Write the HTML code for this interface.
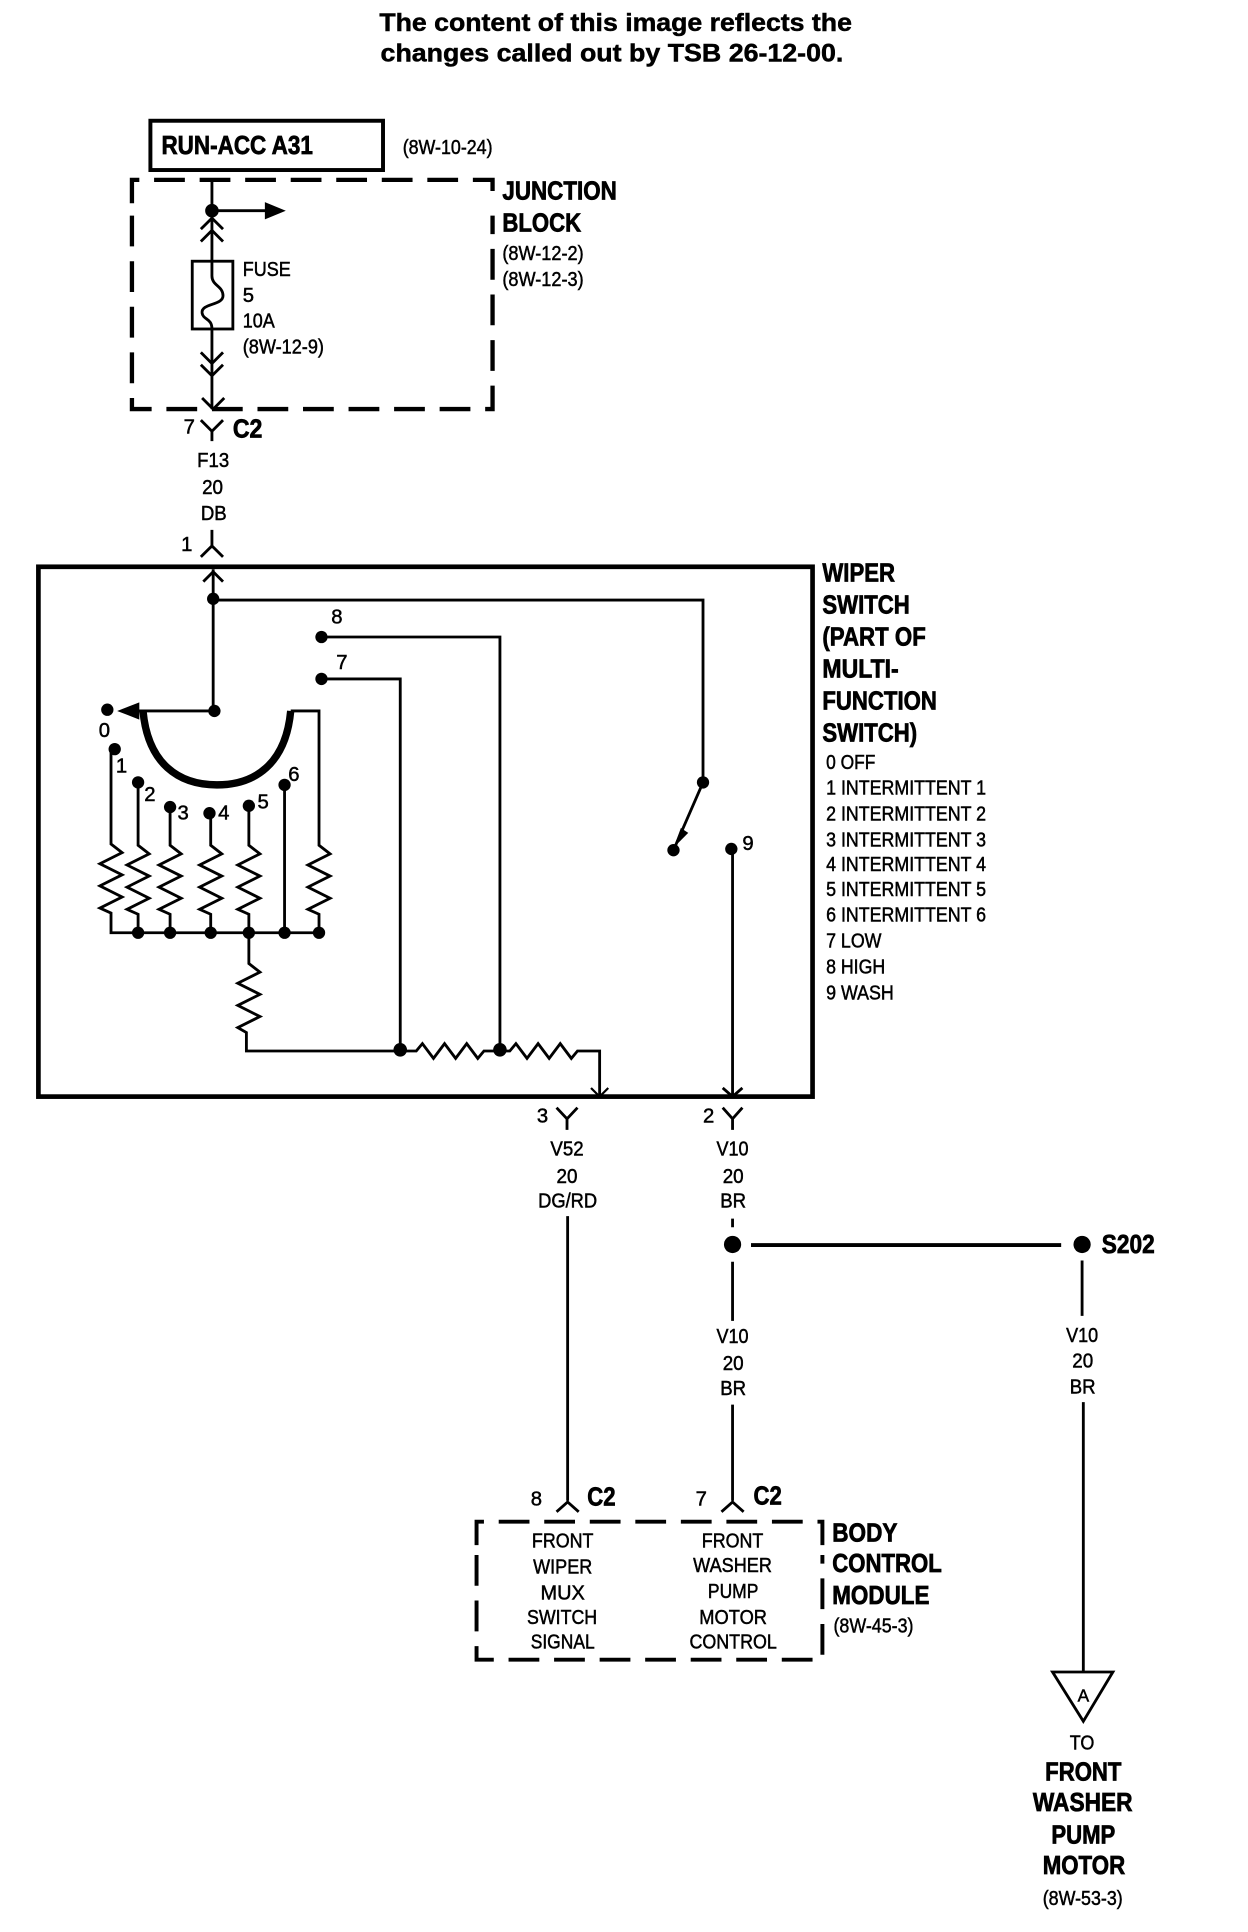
<!DOCTYPE html>
<html><head><meta charset="utf-8"><title>Wiper switch schematic</title>
<style>
html,body{margin:0;padding:0;background:#fff}
svg{display:block}
text{font-family:"Liberation Sans",sans-serif;fill:#000;stroke:#000;stroke-width:.4}
.b{font-weight:bold;font-size:21px;stroke-width:.6}
.r{font-size:16.5px}
.t{font-weight:bold;font-size:20.5px;stroke-width:.4}
.c{text-anchor:middle}
</style></head><body>
<svg width="1248" height="1932" viewBox="-0.2 0 1014 1568" preserveAspectRatio="none" xmlns="http://www.w3.org/2000/svg">
<rect x="-1" width="1016" height="1568" fill="#fff"/>
<text class="t" x="308" y="25" textLength="384" lengthAdjust="spacingAndGlyphs">The content of this image reflects the</text>
<text class="t" x="309" y="50" textLength="376" lengthAdjust="spacingAndGlyphs">changes called out by TSB 26-12-00.</text>

<g fill="none" stroke="#000" stroke-width="2.300">
<rect x="122" y="98" width="189" height="40" stroke-width="3.200"/>
<path stroke-width="3.500" stroke-dasharray="25 12" d="M107 165V146H400V165"/>
<path stroke-width="3.500" stroke-dasharray="25 12" d="M107 175V332H400V175"/>
<path d="M172 146V212M172 267V332"/>
<path d="M172 171H216"/>
<path d="M163 186l9-9 9 9M163 196l9-9 9 9"/>
<rect x="156" y="212" width="33" height="55"/>
<path d="M172 212V224C172 232 181 232 181 240C181 248 163 246 164 254C165 260 172 258 172 267"/>
<path d="M163 286l9 9 9-9M163 296l9 9 9-9M164 323l9 9 9-9"/>
<path d="M163 341l9 9 9-9M172 350V358"/>
<path d="M172 430V445M163 452l9-9 9 9"/>
<rect x="31" y="460" width="629" height="430" stroke-width="3.800"/>
<path d="M165 472l8-8 8 8"/>
<path d="M173 462V577H110"/>
<path d="M173 487H571V635L547 690"/>
<path d="M261 517H406V852M261 551H325V852"/>
<path stroke-width="6" d="M116 577C120 620 145 637 176 637C207 637 232 620 236 577"/>
<path d="M236 577H259V686l9 7-18 9 18 9-18 9 18 9-18 9 9 4V757"/>
<path d="M90 608V685l9 7-18 9 18 9-18 9 18 9-18 9 9 4V757H259"/>
<path d="M112 635V686l9 7-18 9 18 9-18 9 18 9-18 9 9 4V757"/>
<path d="M138 655V686l9 7-18 9 18 9-18 9 18 9-18 9 9 4V757"/>
<path d="M171 660V686l9 7-18 9 18 9-18 9 18 9-18 9 9 4V757"/>
<path d="M202 654V686l9 7-18 9 18 9-18 9 18 9-18 9 9 4V757"/>
<path d="M231 637V757"/>
<path d="M202 757V782l9 7-18 9 18 9-18 9 18 9-18 9 7 4V853H325H338l5-6 9 12 9-12 9 12 9-12 9 12 5-6H406H414l5-6 9 12 9-12 9 12 9-12 9 12 5-6H487V890"/>
<path stroke-width="1.800" d="M480 883l7 7 7-7"/>
<path d="M595 689V890M587 883l8 7 8-7"/>
<path d="M452 899l8.500 9 8.500-9M460.500 908V917"/>
<path d="M587 899l8 9 8-9M595 908V917"/>
<path d="M461 987V1218M452 1227l9-8 9 8"/>
<path d="M595 989V996M595 1024V1072M595 1140V1218M586 1227l9-8 9 8"/>
<path stroke-width="3.200" d="M610 1010.500H862"/>
<path d="M879 1023V1068M880 1138V1357"/>
<path stroke-width="3.200" stroke-dasharray="25 12" d="M387 1254V1235H668V1254"/>
<path stroke-width="3.200" stroke-dasharray="25 12" d="M387 1262V1347H668V1262"/>
<path d="M855 1357H904L880 1397Z"/>
</g>

<g fill="#000" stroke="none">
<path d="M215 164L232 171L215 178Z"/>
<path d="M95 577L113 570V584Z"/>
<path d="M547 688L553 672L559 676Z"/>
<circle cx="172" cy="171" r="5.500"/><circle cx="173" cy="486" r="5"/>
<circle cx="261" cy="517" r="5"/><circle cx="261" cy="551" r="5"/>
<circle cx="174" cy="577" r="5"/><circle cx="87" cy="576" r="5"/>
<circle cx="93" cy="608" r="5"/><circle cx="112" cy="635" r="5"/>
<circle cx="138" cy="655" r="5"/><circle cx="170" cy="660" r="5"/>
<circle cx="202" cy="654" r="5"/><circle cx="231" cy="637" r="5"/>
<circle cx="112" cy="757" r="5"/><circle cx="138" cy="757" r="5"/>
<circle cx="171" cy="757" r="5"/><circle cx="202" cy="757" r="5"/>
<circle cx="231" cy="757" r="5"/><circle cx="259" cy="757" r="5"/>
<circle cx="325" cy="852" r="5.500"/><circle cx="406" cy="852" r="5.500"/>
<circle cx="571" cy="635" r="5"/><circle cx="547" cy="690" r="5"/><circle cx="594" cy="689" r="5"/>
<circle cx="595" cy="1010" r="7"/><circle cx="879" cy="1010" r="7"/>
</g>

<text class="b" x="131" y="125" textLength="123" lengthAdjust="spacingAndGlyphs">RUN-ACC A31</text>
<text class="r" x="327" y="125" textLength="73" lengthAdjust="spacingAndGlyphs">(8W-10-24)</text>
<text class="b" x="408" y="162" textLength="93" lengthAdjust="spacingAndGlyphs">JUNCTION</text>
<text class="b" x="408" y="188" textLength="64" lengthAdjust="spacingAndGlyphs">BLOCK</text>
<text class="r" x="408" y="211" textLength="66" lengthAdjust="spacingAndGlyphs">(8W-12-2)</text>
<text class="r" x="408" y="232" textLength="66" lengthAdjust="spacingAndGlyphs">(8W-12-3)</text>
<text class="r" x="197" y="224" textLength="39" lengthAdjust="spacingAndGlyphs">FUSE</text>
<text class="r" x="197" y="245">5</text>
<text class="r" x="197" y="266" textLength="26" lengthAdjust="spacingAndGlyphs">10A</text>
<text class="r" x="197" y="287" textLength="66" lengthAdjust="spacingAndGlyphs">(8W-12-9)</text>
<text class="r" x="149" y="352">7</text>
<text class="b" x="189" y="355" textLength="24" lengthAdjust="spacingAndGlyphs">C2</text>
<text class="r" x="160" y="379" textLength="26" lengthAdjust="spacingAndGlyphs">F13</text>
<text class="r" x="164" y="401" textLength="17" lengthAdjust="spacingAndGlyphs">20</text>
<text class="r" x="163" y="422" textLength="21" lengthAdjust="spacingAndGlyphs">DB</text>
<text class="r" x="147" y="447">1</text>

<text class="r" x="80" y="598">0</text>
<text class="r" x="94" y="627">1</text>
<text class="r" x="117" y="650">2</text>
<text class="r" x="144" y="665">3</text>
<text class="r" x="177" y="665">4</text>
<text class="r" x="209" y="656">5</text>
<text class="r" x="234" y="634">6</text>
<text class="r" x="269" y="506">8</text>
<text class="r" x="273" y="543">7</text>
<text class="r" x="603" y="690">9</text>

<text class="b" x="668" y="472" textLength="59" lengthAdjust="spacingAndGlyphs">WIPER</text>
<text class="b" x="668" y="498" textLength="71" lengthAdjust="spacingAndGlyphs">SWITCH</text>
<text class="b" x="668" y="524" textLength="84" lengthAdjust="spacingAndGlyphs">(PART OF</text>
<text class="b" x="668" y="550" textLength="62" lengthAdjust="spacingAndGlyphs">MULTI-</text>
<text class="b" x="668" y="576" textLength="93" lengthAdjust="spacingAndGlyphs">FUNCTION</text>
<text class="b" x="668" y="602" textLength="77" lengthAdjust="spacingAndGlyphs">SWITCH)</text>
<text class="r" x="671" y="624" textLength="40" lengthAdjust="spacingAndGlyphs">0 OFF</text>
<text class="r" x="671" y="645" textLength="130" lengthAdjust="spacingAndGlyphs">1 INTERMITTENT 1</text>
<text class="r" x="671" y="666" textLength="130" lengthAdjust="spacingAndGlyphs">2 INTERMITTENT 2</text>
<text class="r" x="671" y="687" textLength="130" lengthAdjust="spacingAndGlyphs">3 INTERMITTENT 3</text>
<text class="r" x="671" y="707" textLength="130" lengthAdjust="spacingAndGlyphs">4 INTERMITTENT 4</text>
<text class="r" x="671" y="727" textLength="130" lengthAdjust="spacingAndGlyphs">5 INTERMITTENT 5</text>
<text class="r" x="671" y="748" textLength="130" lengthAdjust="spacingAndGlyphs">6 INTERMITTENT 6</text>
<text class="r" x="671" y="769" textLength="45" lengthAdjust="spacingAndGlyphs">7 LOW</text>
<text class="r" x="671" y="790" textLength="48" lengthAdjust="spacingAndGlyphs">8 HIGH</text>
<text class="r" x="671" y="811" textLength="55" lengthAdjust="spacingAndGlyphs">9 WASH</text>

<text class="r" x="436" y="911">3</text>
<text class="r" x="571" y="911">2</text>
<text class="r" x="447" y="938" textLength="27" lengthAdjust="spacingAndGlyphs">V52</text>
<text class="r" x="452" y="960" textLength="17" lengthAdjust="spacingAndGlyphs">20</text>
<text class="r" x="437" y="980" textLength="48" lengthAdjust="spacingAndGlyphs">DG/RD</text>
<text class="r" x="582" y="938" textLength="26" lengthAdjust="spacingAndGlyphs">V10</text>
<text class="r" x="587" y="960" textLength="17" lengthAdjust="spacingAndGlyphs">20</text>
<text class="r" x="585" y="980" textLength="21" lengthAdjust="spacingAndGlyphs">BR</text>
<text class="b" x="895" y="1017" textLength="43" lengthAdjust="spacingAndGlyphs">S202</text>
<text class="r" x="582" y="1090" textLength="26" lengthAdjust="spacingAndGlyphs">V10</text>
<text class="r" x="587" y="1112" textLength="17" lengthAdjust="spacingAndGlyphs">20</text>
<text class="r" x="585" y="1132" textLength="21" lengthAdjust="spacingAndGlyphs">BR</text>
<text class="r" x="866" y="1089" textLength="26" lengthAdjust="spacingAndGlyphs">V10</text>
<text class="r" x="871" y="1110" textLength="17" lengthAdjust="spacingAndGlyphs">20</text>
<text class="r" x="869" y="1131" textLength="21" lengthAdjust="spacingAndGlyphs">BR</text>
<text class="r" x="431" y="1222">8</text>
<text class="r" x="565" y="1222">7</text>
<text class="b" x="477" y="1222" textLength="23" lengthAdjust="spacingAndGlyphs">C2</text>
<text class="b" x="612" y="1221" textLength="23" lengthAdjust="spacingAndGlyphs">C2</text>
<text class="r" x="432" y="1256" textLength="50" lengthAdjust="spacingAndGlyphs">FRONT</text>
<text class="r" x="433" y="1277" textLength="48" lengthAdjust="spacingAndGlyphs">WIPER</text>
<text class="r" x="439" y="1298" textLength="36" lengthAdjust="spacingAndGlyphs">MUX</text>
<text class="r" x="428" y="1318" textLength="57" lengthAdjust="spacingAndGlyphs">SWITCH</text>
<text class="r" x="431" y="1338" textLength="52" lengthAdjust="spacingAndGlyphs">SIGNAL</text>
<text class="r" x="570" y="1256" textLength="50" lengthAdjust="spacingAndGlyphs">FRONT</text>
<text class="r" x="563" y="1276" textLength="64" lengthAdjust="spacingAndGlyphs">WASHER</text>
<text class="r" x="575" y="1297" textLength="41" lengthAdjust="spacingAndGlyphs">PUMP</text>
<text class="r" x="568" y="1318" textLength="55" lengthAdjust="spacingAndGlyphs">MOTOR</text>
<text class="r" x="560" y="1338" textLength="71" lengthAdjust="spacingAndGlyphs">CONTROL</text>
<text class="b" x="676" y="1251" textLength="53" lengthAdjust="spacingAndGlyphs">BODY</text>
<text class="b" x="676" y="1276" textLength="89" lengthAdjust="spacingAndGlyphs">CONTROL</text>
<text class="b" x="676" y="1302" textLength="79" lengthAdjust="spacingAndGlyphs">MODULE</text>
<text class="r" x="677" y="1325" textLength="65" lengthAdjust="spacingAndGlyphs">(8W-45-3)</text>
<text class="r c" x="880" y="1381" style="font-size:14px">A</text>
<text class="r" x="869" y="1420" textLength="20" lengthAdjust="spacingAndGlyphs">TO</text>
<text class="b" x="849" y="1445" textLength="62" lengthAdjust="spacingAndGlyphs">FRONT</text>
<text class="b" x="839" y="1470" textLength="81" lengthAdjust="spacingAndGlyphs">WASHER</text>
<text class="b" x="854" y="1496" textLength="52" lengthAdjust="spacingAndGlyphs">PUMP</text>
<text class="b" x="847" y="1521" textLength="67" lengthAdjust="spacingAndGlyphs">MOTOR</text>
<text class="r" x="847" y="1546" textLength="65" lengthAdjust="spacingAndGlyphs">(8W-53-3)</text>
</svg>
</body></html>
